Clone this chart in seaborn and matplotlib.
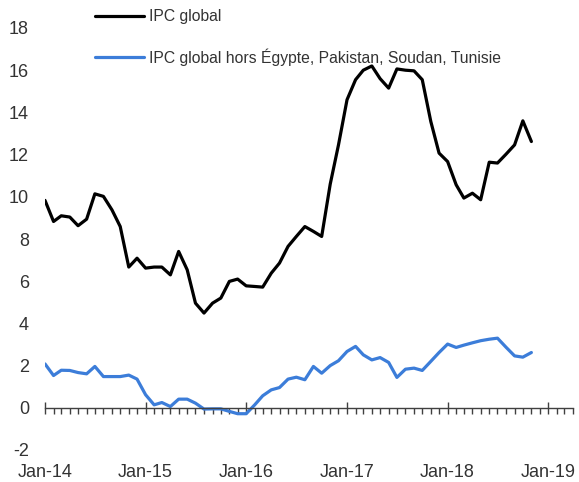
import numpy as np
import pandas as pd
import seaborn as sns
import matplotlib.pyplot as plt
import matplotlib.dates as mdates

# Monthly data, Jan-14 to Nov-18
months = pd.date_range('2014-01-01', periods=59, freq='MS')

ipc_global = [
    9.83, 8.83, 9.10, 9.04, 8.63, 8.94, 10.14, 10.02, 9.38, 8.59,
    6.67, 7.09, 6.62, 6.67, 6.67, 6.30, 7.41, 6.54, 4.96, 4.49,
    4.96, 5.20, 5.99, 6.10, 5.78, 5.75, 5.72, 6.38, 6.86, 7.65,
    8.12, 8.59, 8.36, 8.12, 10.60, 12.46, 14.60, 15.55, 16.00, 16.20,
    15.60, 15.15, 16.06, 16.00, 15.97, 15.55, 13.57, 12.07, 11.67, 10.57,
    9.94, 10.17, 9.86, 11.64, 11.60, 12.02, 12.46, 13.60, 12.62,
]

ipc_hors = [
    2.08, 1.53, 1.78, 1.77, 1.67, 1.61, 1.96, 1.48, 1.48, 1.48,
    1.55, 1.36, 0.62, 0.14, 0.25, 0.06, 0.41, 0.41, 0.22, -0.06,
    -0.05, -0.05, -0.17, -0.28, -0.28, 0.14, 0.57, 0.85, 0.96, 1.36,
    1.45, 1.33, 1.96, 1.64, 2.00, 2.23, 2.67, 2.91, 2.51, 2.27,
    2.38, 2.15, 1.44, 1.83, 1.88, 1.77, 2.20, 2.62, 3.02, 2.86,
    2.97, 3.08, 3.18, 3.25, 3.30, 2.87, 2.46, 2.40, 2.62,
]

label_global = 'IPC global'
label_hors = 'IPC global hors Égypte, Pakistan, Soudan, Tunisie'
y_ticks = [-2, 0, 2, 4, 6, 8, 10, 12, 14, 16, 18]

df = pd.DataFrame({'Date': months, label_global: ipc_global, label_hors: ipc_hors})

sns.set_style('white')
plt.rcParams['font.family'] = ['Liberation Sans', 'DejaVu Sans']
plt.rcParams['axes.unicode_minus'] = False

text_col = '#333333'
axis_col = '#404040'

fig = plt.figure(figsize=(5.79, 4.82), dpi=100)
ax = fig.add_axes([45 / 579, 32 / 482, 528 / 579, 422 / 482])

sns.lineplot(data=df, x='Date', y=label_global, ax=ax, color='black', linewidth=2.3,
             label=label_global, solid_joinstyle='round', solid_capstyle='round')
sns.lineplot(data=df, x='Date', y=label_hors, ax=ax, color='#3C7DD9', linewidth=2.3,
             label=label_hors, solid_joinstyle='round', solid_capstyle='round')

ax.set_xlim(pd.Timestamp('2014-01-01'), pd.Timestamp('2019-04-01'))
ax.set_ylim(-2, 18)
ax.set_yticks(y_ticks)
ax.set_xlabel('')
ax.set_ylabel('')

# x axis crosses at 0, labels stay at the bottom
for s in ['top', 'right', 'left']:
    ax.spines[s].set_visible(False)
ax.spines['bottom'].set_position(('data', 0))
ax.spines['bottom'].set_color(axis_col)
ax.spines['bottom'].set_linewidth(1.0)

ax.xaxis.set_major_locator(mdates.YearLocator())
ax.xaxis.set_major_formatter(mdates.DateFormatter('%b-%y'))
ax.xaxis.set_minor_locator(mdates.MonthLocator())
ax.tick_params(axis='x', which='major', direction='inout', length=9, width=1.0,
               color=axis_col, labelsize=13, labelcolor=text_col, pad=36, bottom=True)
ax.tick_params(axis='x', which='minor', direction='out', length=4.5, width=1.0,
               color=axis_col, bottom=True)
ax.tick_params(axis='y', length=0, labelsize=13, labelcolor=text_col, pad=11.5)

ax.legend(loc='upper left', bbox_to_anchor=(95 / 579, 1 - 9 / 482),
          bbox_transform=fig.transFigure, frameon=False, fontsize=11.3,
          handlelength=3.1, handletextpad=0.35, labelspacing=1.55, borderpad=0,
          borderaxespad=0, labelcolor=text_col)

fig.savefig('out.png', dpi=100)
